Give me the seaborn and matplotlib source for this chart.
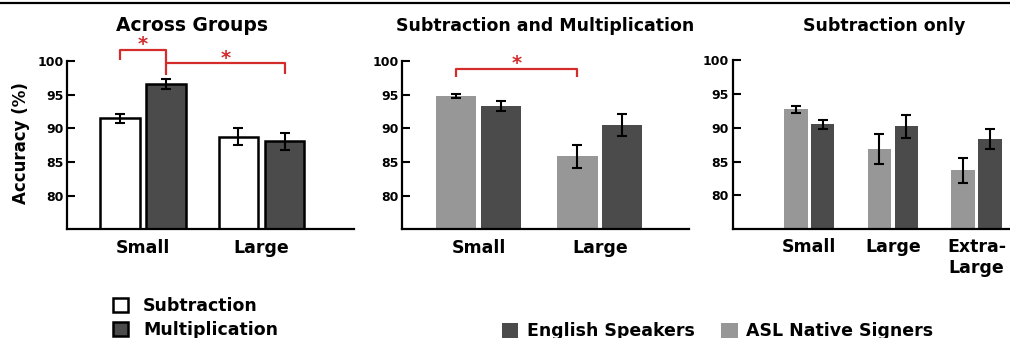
import numpy as np
import pandas as pd
import matplotlib
matplotlib.use("Agg")
import matplotlib.pyplot as plt
import seaborn as sns
from matplotlib.patches import Patch
from matplotlib.lines import Line2D
from matplotlib.container import BarContainer

# ---------------- data ----------------
sizes_across = ["Small", "Large"]
ops = ["Subtraction", "Multiplication"]
acc_sub = [91.5, 88.8]
err_sub = [0.65, 1.3]
acc_mul = [96.6, 88.1]
err_mul = [0.7, 1.25]

sizes_sm = ["Small", "Large"]
groups = ["ASL Native Signers", "English Speakers"]
asl_sm = [94.8, 85.9]
asl_sm_err = [0.3, 1.7]
eng_sm = [93.3, 90.5]
eng_sm_err = [0.7, 1.65]

sizes_so = ["Small", "Large", "Extra-\nLarge"]
asl_so = [92.7, 86.9, 83.7]
asl_so_err = [0.5, 2.2, 1.8]
eng_so = [90.5, 90.2, 88.3]
eng_so_err = [0.7, 1.65, 1.5]

titles = ["Across Groups", "Subtraction and Multiplication", "Subtraction only"]
yticks = [80, 85, 90, 95, 100]

DARK = "#4b4b4b"
LIGHT = "#979797"
RED = "#d42b2b"

sns.set_theme(style="white")
plt.rcParams["font.family"] = ["DejaVu Sans"]
plt.rcParams["font.weight"] = "bold"
for k in ("text.color", "axes.labelcolor", "xtick.color", "ytick.color"):
    plt.rcParams[k] = "black"

fig = plt.figure(figsize=(10.1, 3.38), dpi=100)

ax1 = fig.add_axes([67 / 1010, 0.3225, 287 / 1010, 0.497])
ax2 = fig.add_axes([402 / 1010, 0.3225, 287 / 1010, 0.497])
ax3 = fig.add_axes([732.5 / 1010, 0.3234, 277.5 / 1010, 0.4991])


def draw(ax, cats, levels, vals, errs, palette, width, gap, edge):
    rows = []
    for lev, v in zip(levels, vals):
        for c, y in zip(cats, v):
            rows.append({"size": c, "group": lev, "acc": y})
    df = pd.DataFrame(rows)
    kw = dict(edgecolor="black", linewidth=1.8) if edge else dict(linewidth=0)
    sns.barplot(data=df, x="size", y="acc", hue="group", order=cats,
                hue_order=levels, palette=palette, width=width, gap=gap,
                errorbar=None, legend=False, ax=ax, **kw)
    centers = {}
    bars = [b for cont in list(ax.containers) if isinstance(cont, BarContainer)
            for b in cont]
    for bar in bars:
        xc = bar.get_x() + bar.get_width() / 2
        ci = int(round(xc))
        hi = 0 if xc < ci else 1
        centers[(hi, ci)] = xc
        ax.errorbar(xc, vals[hi][ci], yerr=errs[hi][ci], fmt="none",
                    ecolor="black", elinewidth=1.5, capsize=3.5,
                    capthick=1.5, zorder=5)
    ax.set_xlabel("")
    ax.set_ylabel("")
    ax.set_ylim(75.1, 100)
    ax.set_yticks(yticks)
    ax.set_yticklabels([str(t) for t in yticks])
    ax.tick_params(axis="y", direction="in", length=5.5, width=1.5, pad=2.5,
                   labelsize=9, colors="black", left=True)
    ax.tick_params(axis="x", length=0, pad=7, labelsize=12.5, colors="black")
    for lab in ax.get_xticklabels() + ax.get_yticklabels():
        lab.set_fontweight("bold")
    sns.despine(ax=ax)
    for s in ("left", "bottom"):
        ax.spines[s].set_linewidth(1.6)
        ax.spines[s].set_color("black")
    ax.set_facecolor("none")
    return centers


c1 = draw(ax1, sizes_across, ops, [acc_sub, acc_mul], [err_sub, err_mul],
          ["white", DARK], 0.78, 0.15, True)
ax1.set_xlim(-0.641, 1.78)
ax1.set_ylabel("Accuracy (%)", fontsize=12, fontweight="bold", color="black",
               va="center")
ax1.yaxis.set_label_coords(-0.162, 0.512)

c2 = draw(ax2, sizes_sm, groups, [asl_sm, eng_sm], [asl_sm_err, eng_sm_err],
          [LIGHT, DARK], 0.74, 0.1, False)
ax2.set_xlim(-0.631, 1.735)

c3 = draw(ax3, sizes_so, groups, [asl_so, eng_so], [asl_so_err, eng_so_err],
          [LIGHT, DARK], 0.645, 0.13, False)
ax3.set_xlim(-0.918, 2.40)

# significance brackets
lk = dict(color=RED, lw=1.6, clip_on=False, solid_capstyle="butt")
x1, x2, x3 = c1[(0, 0)], c1[(1, 0)], c1[(1, 1)]
ax1.plot([x1, x1, x2, x2], [100.15, 101.63, 101.63, 99.70], **lk)
ax1.plot([x2, x2, x3, x3], [97.93, 99.70, 99.70, 98.07], **lk)
ax1.text((x1 + x2) / 2, 102.4, "*", color=RED, fontsize=14, ha="center",
         va="center", clip_on=False)
ax1.text((x2 + x3) / 2, 100.35, "*", color=RED, fontsize=14, ha="center",
         va="center", clip_on=False)

xa, xb = c2[(0, 0)], c2[(0, 1)]
ax2.plot([xa, xa, xb, xb], [97.67, 98.81, 98.81, 97.67], **lk)
ax2.text((xa + xb) / 2, 99.7, "*", color=RED, fontsize=14, ha="center",
         va="center", clip_on=False)

# titles
for x, t, fs in zip([192.5, 545, 884.5], titles, [13.5, 12.5, 12.5]):
    fig.text(x / 1010, 1 - 31 / 338, t, ha="center", va="baseline",
             fontsize=fs, fontweight="bold", color="black")

# legends
h1 = [Patch(facecolor="white", edgecolor="black", linewidth=1.8),
      Patch(facecolor=DARK, edgecolor="black", linewidth=1.8)]
fig.legend(h1, ops, loc="upper left", bbox_to_anchor=(113 / 1010, 1 - 297 / 338),
           frameon=False, borderpad=0, borderaxespad=0, handlelength=0.87,
           handleheight=0.87, handletextpad=0.86, labelspacing=0.36,
           prop={"size": 12.5, "weight": "bold"})

h2 = [Patch(facecolor=DARK, linewidth=0), Patch(facecolor=LIGHT, linewidth=0)]
fig.legend(h2, ["English Speakers", "ASL Native Signers"], loc="upper left",
           ncol=2, bbox_to_anchor=(502 / 1010, 1 - 322 / 338), frameon=False,
           borderpad=0, borderaxespad=0, handlelength=0.95, handleheight=0.95,
           handletextpad=0.5, columnspacing=1.5,
           prop={"size": 12.5, "weight": "bold"})

fig.add_artist(Line2D([0, 1], [1 - 2.5 / 338] * 2, color="black", lw=1.6,
                      transform=fig.transFigure))

fig.savefig("out.png", dpi=100)
